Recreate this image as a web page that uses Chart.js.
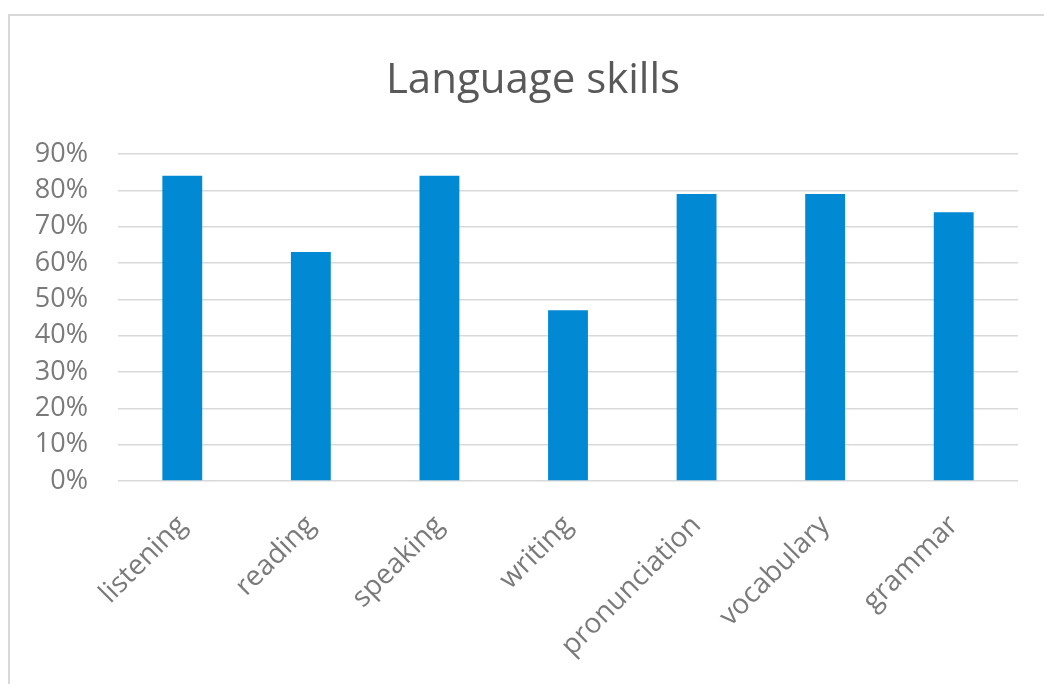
<!DOCTYPE html>
<html>
<head>
<meta charset="utf-8">
<script src="https://cdn.jsdelivr.net/npm/chart.js@4"></script>
<style>
  html, body { margin: 0; padding: 0; background: #fff; }
  #wrap { position: relative; width: 1044px; height: 684px; overflow: hidden; }
  #frame { position: absolute; left: 8px; top: 14px; width: 1100px; height: 700px;
           border-left: 2px solid #d9d9d9; border-top: 2px solid #d9d9d9; }
  #c { position: absolute; left: 0; top: 0; }
</style>
</head>
<body>
<div id="wrap">
  <div id="frame"></div>
  <canvas id="c" width="1044" height="684"></canvas>
</div>
<script>
const categories = ['listening', 'reading', 'speaking', 'writing', 'pronunciation', 'vocabulary', 'grammar'];
const values = [84, 63, 84, 47, 79, 79, 74];
const yTicks = [0, 10, 20, 30, 40, 50, 60, 70, 80, 90];
const chartTitle = 'Language skills';

// shift the title box so its centre matches the reference
const titleShift = {
  id: 'titleShift',
  afterLayout(chart) {
    if (chart.titleBlock) { chart.titleBlock.left += 48; }
  }
};

new Chart(document.getElementById('c'), {
  type: 'bar',
  data: {
    labels: categories,
    datasets: [{
      data: values,
      backgroundColor: '#0289d3',
      borderWidth: 0,
      barPercentage: 0.31,
      categoryPercentage: 1
    }]
  },
  plugins: [titleShift],
  options: {
    responsive: false,
    animation: false,
    layout: { padding: { left: 0, right: 26, top: 0, bottom: 0 } },
    plugins: {
      legend: { display: false },
      tooltip: { enabled: false },
      title: {
        display: true,
        text: chartTitle,
        color: '#595959',
        font: { family: 'Open Sans', size: 42, weight: 'normal', lineHeight: 1.2 },
        padding: { top: 56, bottom: 47.6 }
      }
    },
    scales: {
      x: {
        grid: { display: false },
        border: { display: false },
        ticks: {
          color: '#7a7a7a',
          font: { family: 'Open Sans', size: 28 },
          minRotation: 45,
          maxRotation: 45,
          autoSkip: false,
          padding: 20
        },
        afterFit: (s) => { s.height = 203; }
      },
      y: {
        min: 0,
        max: 90,
        afterBuildTicks: (s) => { s.ticks = yTicks.map(v => ({ value: v })); },
        grid: { color: '#d9d9d9', lineWidth: 1.6, drawTicks: false },
        border: { display: false },
        ticks: {
          color: '#7a7a7a',
          font: { family: 'Open Sans', size: 27 },
          padding: 30,
          callback: (v) => v + '%'
        },
        afterFit: (s) => { s.width = 118; }
      }
    }
  }
});
</script>
</body>
</html>
